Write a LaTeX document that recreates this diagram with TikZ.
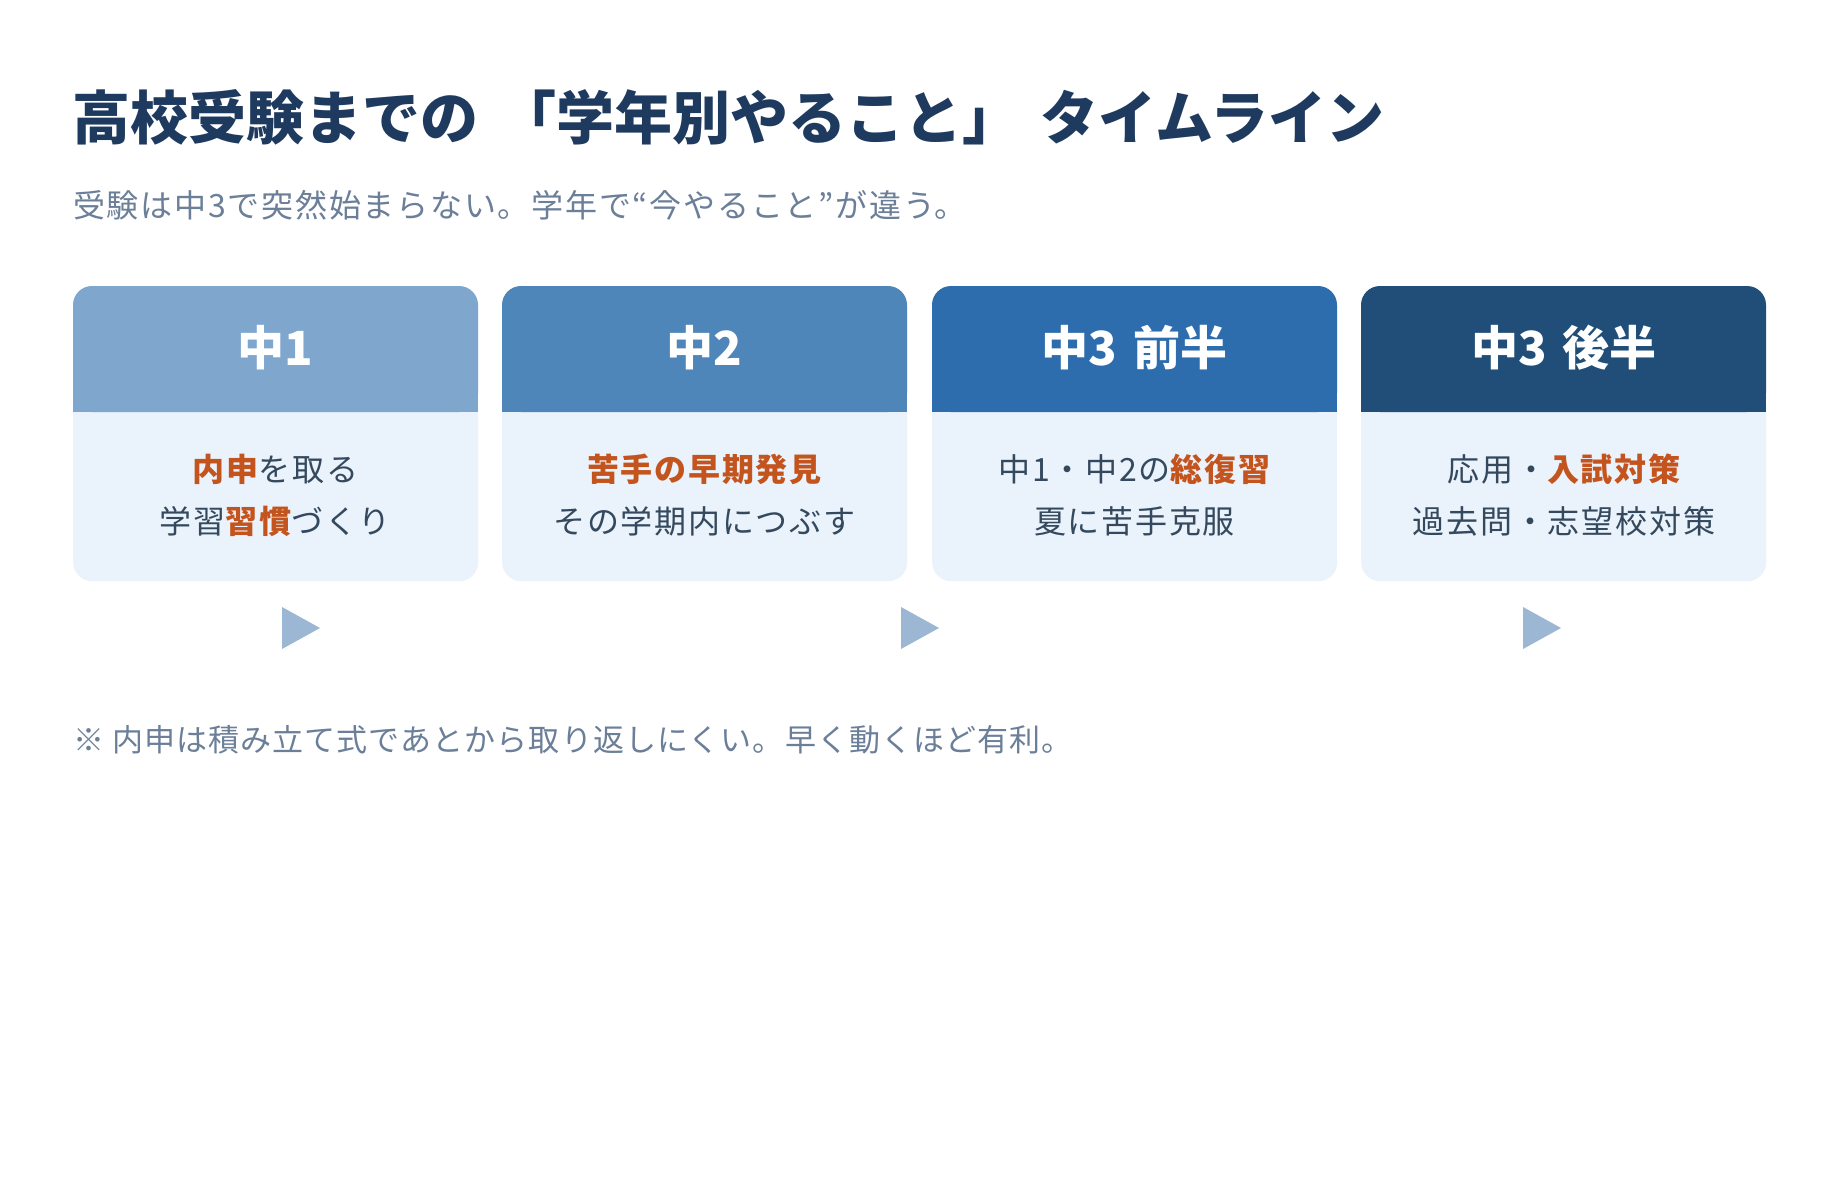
\documentclass[tikz,border=0pt]{standalone}
\usepackage{fontspec}
\setmainfont{Noto Sans CJK JP}
\newfontfamily\subfont{Noto Sans CJK JP}[LetterSpace=5.5]
\newfontfamily\notefont{Noto Sans CJK JP}[LetterSpace=3.5]
\newfontfamily\linefont{Noto Sans CJK JP}[LetterSpace=5.5]
\definecolor{titlec}{HTML}{1F3A5F}
\definecolor{subc}{HTML}{6B7F99}
\definecolor{bodyc}{HTML}{34495E}
\definecolor{orangec}{HTML}{C4541D}
\definecolor{bodybg}{HTML}{EAF2FB}
\definecolor{hA}{HTML}{7FA7CE}
\definecolor{hB}{HTML}{4F86BA}
\definecolor{hC}{HTML}{2E6DAD}
\definecolor{hD}{HTML}{214E79}
\definecolor{tric}{HTML}{9BB7D4}
\newcommand{\hl}[1]{\textcolor{orangec}{\bfseries #1}}
\begin{document}
\begin{tikzpicture}[x=1pt,y=-1pt,
  cardbox/.style={draw=none,fill=bodybg,rounded corners=19pt,minimum width=405pt,minimum height=295pt,anchor=north west,inner sep=0pt},
  headtxt/.style={inner sep=0pt,text=white,font=\fontsize{47}{50}\selectfont\bfseries},
  linetxt/.style={inner sep=0pt,text=bodyc,font=\linefont\fontsize{32}{38}\selectfont},
  tri/.style={fill=tric}]
\fill[white] (0,0) rectangle (1840,1200);
\node[anchor=west,inner sep=0pt,text=titlec,font=\fontsize{58}{64}\selectfont\bfseries] (title) at (72,117) {高校受験までの\hspace{20pt}「学年別やること」\hspace{20pt}タイムライン};
\node[anchor=west,inner sep=0pt,text=subc,font=\subfont\fontsize{32}{38}\selectfont] (sub) at (73,205) {受験は中3で突然始まらない。学年で“今やること”が違う。};
% cards
\foreach \n/\x/\c in {1/73/hA,2/502/hB,3/932/hC,4/1361/hD}{
  \node[cardbox] (card\n) at (\x,286) {};
  \fill[\c,rounded corners=19pt] (\x,286) rectangle ++(405,126);
  \fill[\c] (\x,380) rectangle ++(405,32);
}
\node[headtxt] (h1) at (275.5,348) {中1};
\node[headtxt] (h2) at (704.5,348) {中2};
\node[headtxt] (h3) at (1134.5,348) {中3\hspace{16pt}前半};
\node[headtxt] (h4) at (1564,348) {中3\hspace{16pt}後半};
\node[linetxt] (a1) at (275.5,469) {\hl{内申}を取る};
\node[linetxt] (b1) at (275.5,521) {学習\hl{習慣}づくり};
\node[linetxt] (a2) at (704.5,469) {\hl{苦手の早期発見}};
\node[linetxt] (b2) at (704.5,521) {その学期内につぶす};
\node[linetxt] (a3) at (1134.5,469) {中1・中2の\hl{総復習}};
\node[linetxt] (b3) at (1134.5,521) {夏に苦手克服};
\node[linetxt] (a4) at (1564,469) {応用・\hl{入試対策}};
\node[linetxt] (b4) at (1564,521) {過去問・志望校対策};
% triangles
\fill[tri] (282,607) -- (320,628) -- (282,649) -- cycle;
\fill[tri] (901,607) -- (939,628) -- (901,649) -- cycle;
\fill[tri] (1523,607) -- (1561,628) -- (1523,649) -- cycle;
\node[anchor=west,inner sep=0pt,text=subc,font=\notefont\fontsize{31}{38}\selectfont] (note) at (73,740) {※ 内申は積み立て式であとから取り返しにくい。早く動くほど有利。};
\end{tikzpicture}
\end{document}
